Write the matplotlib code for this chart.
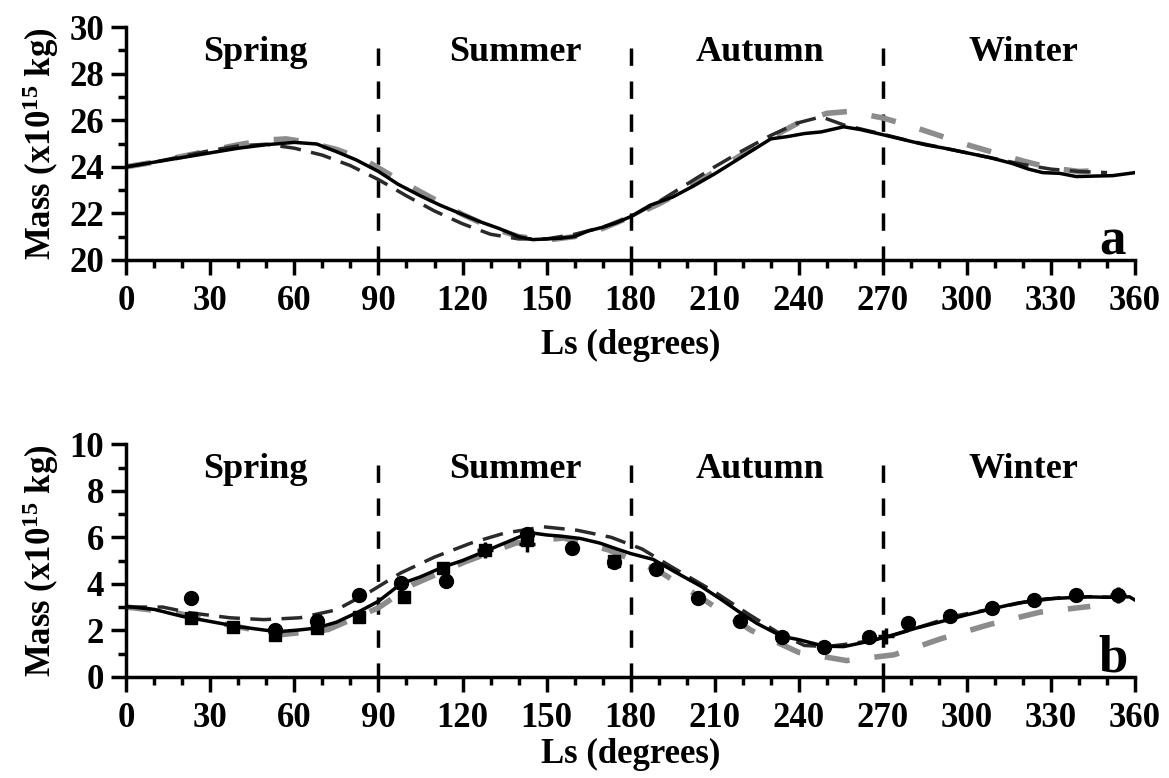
import numpy as np
import matplotlib
matplotlib.use("Agg")
from matplotlib import pyplot as plt
from matplotlib.ticker import MultipleLocator

plt.rcParams['font.family'] = 'Liberation Serif'
plt.rcParams['font.weight'] = 'bold'
plt.rcParams['mathtext.fontset'] = 'custom'
plt.rcParams['mathtext.rm'] = 'Liberation Serif:bold'
plt.rcParams['mathtext.bf'] = 'Liberation Serif:bold'
plt.rcParams['mathtext.default'] = 'rm'

# ---- panel a: total mass ----
ls_a_obs = [0, 10, 20, 30, 40, 50, 60, 68, 75, 82, 90, 97, 105, 112, 119, 126, 133, 140, 145,
            150, 155, 160, 165, 170, 175, 180, 187, 195, 202, 210, 218, 224, 230, 236, 242, 248,
            256, 262, 270, 278, 285, 292, 300, 308, 316, 322, 327, 333, 339, 345, 352, 360]
mass_a_obs = [24.0, 24.2, 24.4, 24.6, 24.8, 24.95, 25.05, 24.98, 24.65, 24.3, 23.8, 23.25, 22.75,
              22.35, 22.0, 21.65, 21.35, 21.0, 20.87, 20.9, 20.93, 21.0, 21.25, 21.4, 21.6, 21.86,
              22.35, 22.7, 23.15, 23.7, 24.3, 24.75, 25.2, 25.3, 25.43, 25.5, 25.72, 25.6, 25.38,
              25.15, 24.95, 24.8, 24.6, 24.4, 24.15, 23.9, 23.75, 23.72, 23.58, 23.6, 23.62, 23.75]

ls_a_m1 = [0, 10, 20, 30, 40, 50, 60, 70, 80, 90, 100, 110, 120, 130, 140, 150, 160, 170, 180,
           190, 200, 210, 220, 230, 240, 248, 256, 270, 280, 290, 300, 310, 320, 330, 340, 350]
mass_a_m1 = [24.0, 24.2, 24.45, 24.7, 24.9, 24.97, 24.8, 24.5, 24.05, 23.45, 22.75, 22.1, 21.55,
             21.1, 20.9, 20.9, 21.1, 21.4, 21.85, 22.5, 23.25, 24.0, 24.7, 25.35, 25.9, 26.15,
             25.8, 25.4, 25.1, 24.85, 24.6, 24.35, 24.1, 23.9, 23.8, 23.75]

ls_a_m2 = [0, 10, 20, 30, 40, 50, 57, 65, 75, 85, 90, 100, 110, 120, 130, 140, 150, 160, 170,
           180, 190, 200, 210, 220, 230, 240, 250, 258, 270, 280, 290, 300, 310, 320, 330, 340, 350]
mass_a_m2 = [24.0, 24.2, 24.45, 24.7, 24.95, 25.15, 25.2, 25.05, 24.75, 24.3, 23.95, 23.25, 22.6,
             21.95, 21.4, 21.0, 20.85, 21.0, 21.35, 21.85, 22.4, 23.05, 23.8, 24.55, 25.25, 25.9,
             26.3, 26.38, 26.1, 25.75, 25.35, 24.95, 24.6, 24.25, 23.95, 23.8, 23.85]

# ---- panel b ----
ls_b_obs = [0, 10, 20, 30, 40, 50, 55, 62, 68, 75, 83, 90, 98, 105, 113, 120, 129, 137, 144,
            150, 155, 162, 169, 175, 180, 188, 196, 205, 212, 218, 225, 234, 240, 249, 256, 262,
            269, 275, 282, 290, 300, 308, 318, 328, 336, 343, 350, 358, 360]
mass_b_obs = [3.03, 2.9, 2.6, 2.38, 2.16, 2.0, 1.95, 2.02, 2.1, 2.35, 2.8, 3.25, 4.0, 4.3, 4.72,
              5.0, 5.45, 5.85, 6.2, 6.1, 6.05, 5.95, 5.75, 5.5, 5.3, 5.05, 4.5, 3.9, 3.35, 2.85,
              2.3, 1.74, 1.6, 1.32, 1.3, 1.45, 1.65, 1.85, 2.1, 2.35, 2.67, 2.9, 3.17, 3.35, 3.4,
              3.44, 3.42, 3.44, 3.3]

ls_b_m1 = [0, 13, 23, 37, 49, 62, 75, 87, 98, 110, 123, 135, 149, 161, 173, 184, 195, 210, 222,
           234, 242, 250, 260, 270, 282, 295, 308, 320, 333, 345, 352]
mass_b_m1 = [3.0, 3.0, 2.75, 2.54, 2.46, 2.54, 2.88, 3.66, 4.47, 5.15, 5.75, 6.18, 6.45, 6.3,
             6.0, 5.5, 4.7, 3.65, 2.7, 1.8, 1.35, 1.3, 1.45, 1.65, 2.1, 2.6, 2.9, 3.2, 3.4, 3.45,
             3.42]

ls_b_m2 = [0, 18, 36, 55, 72, 90, 102, 121, 139, 156, 172, 190, 207, 223, 240, 257, 274, 291,
           308, 326, 344]
mass_b_m2 = [3.0, 2.75, 2.24, 1.81, 2.03, 2.97, 3.95, 4.95, 5.75, 5.97, 5.46, 4.55, 3.25, 2.0,
             1.05, 0.7, 0.95, 1.65, 2.25, 2.78, 3.03]

ls_circ = [23, 53, 68, 83, 98, 114, 143, 159, 174, 189, 204, 219, 234, 249, 265, 279, 294, 309,
           324, 339, 354]
mass_circ = [3.4, 2.0, 2.4, 3.5, 4.05, 4.1, 6.15, 5.55, 4.95, 4.65, 3.4, 2.4, 1.7, 1.28, 1.7,
             2.33, 2.6, 2.95, 3.3, 3.52, 3.5]
err_circ = [0.3, 0.15, 0.2, 0.3, 0.2, 0.15, 0.25, 0.25, 0.3, 0.25, 0.2, 0.15, 0.15, 0.15, 0.15,
            0.2, 0.15, 0.15, 0.15, 0.15, 0.25]

ls_sq = [23, 38, 53, 68, 83, 99, 113, 128, 143, 174]
mass_sq = [2.55, 2.15, 1.82, 2.1, 2.58, 3.45, 4.68, 5.45, 5.9, 5.0]

ls_plus = [128, 143, 271, 354]
mass_plus = [5.45, 5.7, 1.75, 3.5]

seasons = ['Spring', 'Summer', 'Autumn', 'Winter']
season_x = [46, 139, 226, 320]

fig = plt.figure(figsize=(11.69, 7.78), dpi=100)
ax1 = fig.add_axes([0.108, 0.666, 0.863, 0.299])
ax2 = fig.add_axes([0.108, 0.130, 0.863, 0.299])

dark = '#2a2a2a'
light = '#8c8c8c'

ax1.plot(ls_a_m2, mass_a_m2, color=light, lw=4, dashes=(4.5, 4.5), zorder=2)
ax1.plot(ls_a_m1, mass_a_m1, color=dark, lw=2.5, dashes=(6, 3), zorder=3)
ax1.plot(ls_a_obs, mass_a_obs, color='black', lw=2.5, zorder=4)

ax2.plot(ls_b_m2, mass_b_m2, color=light, lw=4, dashes=(4.5, 4.5), zorder=2)
ax2.plot(ls_b_m1, mass_b_m1, color=dark, lw=2.5, dashes=(6, 3), zorder=3)
ax2.plot(ls_b_obs, mass_b_obs, color='black', lw=2.5, zorder=4)
ax2.errorbar(ls_circ, mass_circ, yerr=err_circ, fmt='o', color='black', ms=10,
             elinewidth=2, capsize=0, zorder=5)
ax2.plot(ls_sq, mass_sq, 's', color='black', ms=9, zorder=5)
ax2.plot(ls_plus, mass_plus, '+', color='black', ms=12, mew=2.5, zorder=5)

for ax, ylim, step, letter, lpad in [(ax1, (20, 30), 2, 'a', 8), (ax2, (0, 10), 2, 'b', 2)]:
    ax.set_xlim(0, 360)
    ax.set_ylim(*ylim)
    ax.xaxis.set_major_locator(MultipleLocator(30))
    ax.xaxis.set_minor_locator(MultipleLocator(10))
    ax.yaxis.set_major_locator(MultipleLocator(step))
    ax.yaxis.set_minor_locator(MultipleLocator(step / 2))
    for s in ['top', 'right']:
        ax.spines[s].set_visible(False)
    for s in ['left', 'bottom']:
        ax.spines[s].set_linewidth(2.5)
    ax.tick_params(which='major', direction='out', length=11, width=2.5, labelsize=25, pad=5)
    ax.tick_params(axis='x', which='major', pad=7)
    ax.tick_params(which='minor', direction='out', length=6, width=2.5)
    for lab in ax.get_xticklabels() + ax.get_yticklabels():
        lab.set_fontweight('bold')
    y0, y1 = ylim
    for xv in [90, 180, 270]:
        ax.plot([xv, xv], [y0 + 0.91 * (y1 - y0), y0], color='black', lw=2.5,
                dashes=(5, 4.5), zorder=1)
    for name, xs in zip(seasons, season_x):
        ax.text(xs, y0 + 0.89 * (y1 - y0), name, ha='center', va='center', fontsize=26,
                fontweight='bold')
    ax.text(352, y0 + 0.08 * (y1 - y0), letter, ha='center', va='center', fontsize=38,
            fontweight='bold')
    ax.set_xlabel('Ls (degrees)', fontsize=25, fontweight='bold', labelpad=lpad)
    ax.set_ylabel('Mass (x10$^{15}$ kg)', fontsize=25, fontweight='bold', labelpad=6)

fig.savefig('out.png', dpi=100)
